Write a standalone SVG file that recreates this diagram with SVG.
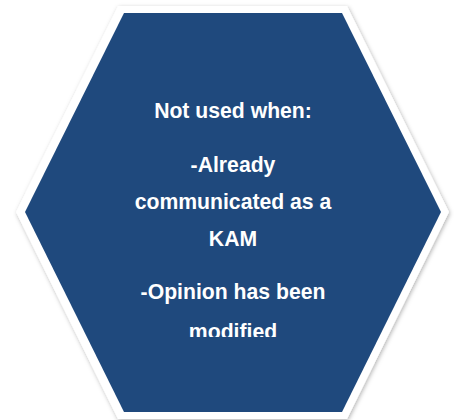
<svg xmlns="http://www.w3.org/2000/svg" width="455" height="420" viewBox="0 0 455 420">
  <defs>
    <filter id="sh" x="-10%" y="-10%" width="120%" height="120%">
      <feDropShadow dx="1" dy="1.5" stdDeviation="2" flood-color="#000" flood-opacity="0.3"/>
    </filter>
    <clipPath id="clip"><rect x="0" y="0" width="455" height="337"/></clipPath>
    <style>
      .t { font-family: "Liberation Sans", Arial, sans-serif; font-weight: bold; font-size: 21.2px; fill: #ffffff; text-anchor: middle; }
    </style>
  </defs>
  <rect width="455" height="420" fill="#ffffff"/>
  <g id="hexagon">
    <polygon points="118,6 347,6 449,212 347,419 118,419 16,212" fill="#ffffff" filter="url(#sh)"/>
    <polygon points="124,13 342,13 441,212 342,412 124,412 25,212" fill="#1F497D"/>
    <g clip-path="url(#clip)">
      <text class="t" x="233" y="118">Not used when:</text>
      <text class="t" x="233" y="172">-Already</text>
      <text class="t" x="233" y="209">communicated as a</text>
      <text class="t" x="233" y="246">KAM</text>
      <text class="t" x="233" y="299">-Opinion has been</text>
      <text class="t" x="233" y="339">modified</text>
    </g>
  </g>
</svg>
